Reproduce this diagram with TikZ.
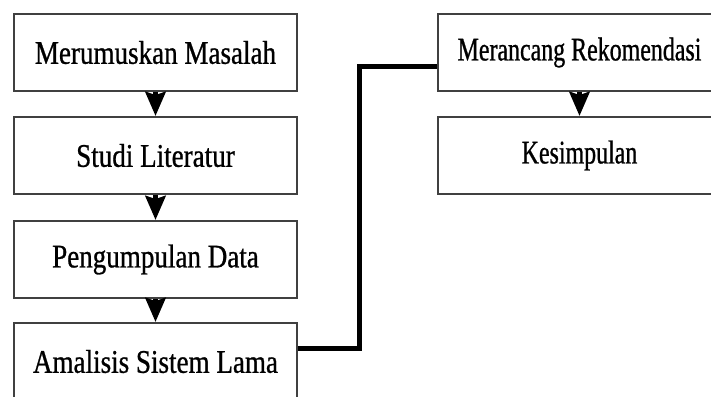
\documentclass[tikz,border=0pt]{standalone}
\usepackage{fontspec}
\setmainfont[FakeStretch=0.82,FakeBold=0.8]{Liberation Serif}
\newfontfamily\narrowserif[FakeStretch=0.725,FakeBold=0.8]{Liberation Serif}
\usetikzlibrary{arrows.meta}
\begin{document}
\begin{tikzpicture}[x=1pt,y=-1pt,
  stepbox/.style={draw=black!75,line width=2pt,fill=white,minimum width=283pt,
    minimum height=77pt,inner sep=0pt,anchor=north west,
    font=\fontsize{33}{38}\selectfont},
  rightbox/.style={stepbox,font=\narrowserif\fontsize{33}{38}\selectfont},
  flow/.style={line width=5pt,black,
    -{Stealth[length=24pt,width=20pt,inset=3pt]}},
  link/.style={line width=5pt,black,line join=miter}]
\useasboundingbox (0,0) rectangle (711,396);
\begin{scope}
\clip (0,0) rectangle (711,396);
% left column of steps
\node[stepbox] (b1) at (13,13)  {Merumuskan Masalah};
\node[stepbox] (b2) at (13,116) {Studi Literatur};
\node[stepbox] (b3) at (13,220) {Pengumpulan Data};
\node[stepbox] (b4) at (13,322) {Amalisis Sistem Lama};
% right column of steps
\node[rightbox] (b5) at (437,13)  {Merancang Rekomendasi};
\node[rightbox] (b6) at (437,116) {Kesimpulan};
% arrows between consecutive steps
\draw[flow] (b1.south) -- (b2.north);
\draw[flow] (b2.south) -- (b3.north);
\draw[flow] (b3.south) -- (b4.north);
\draw[flow] (b5.south) -- (b6.north);
% link from the last left step to the first right step
\draw[link] ([yshift=13.5pt]b4.east) -- ++(61,0) |- ([yshift=-13.5pt]b5.west);
\end{scope}
\end{tikzpicture}
\end{document}
